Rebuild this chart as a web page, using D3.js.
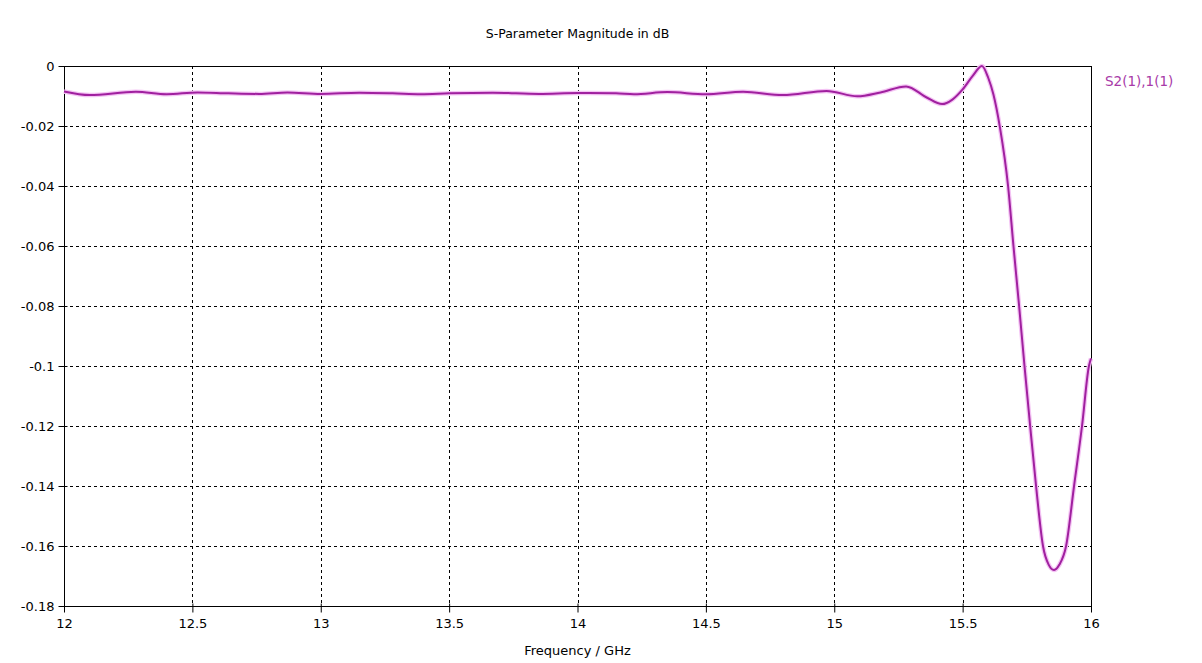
<!DOCTYPE html>
<html>
<head>
<meta charset="utf-8">
<script src="https://cdn.jsdelivr.net/npm/d3@7"></script>
<style>
  html, body { margin: 0; padding: 0; background: #ffffff; }
  svg { display: block; }
  text { font-family: "DejaVu Sans", Verdana, sans-serif; }
</style>
</head>
<body>
<svg id="chart" width="1202" height="663"></svg>
<script>
// ---- data ----
const chartTitle = "S-Parameter Magnitude in dB";
const xAxisLabel = "Frequency / GHz";
const seriesName = "S2(1),1(1)";
const xTicks = [12, 12.5, 13, 13.5, 14, 14.5, 15, 15.5, 16];
const xTickLabels = ["12", "12.5", "13", "13.5", "14", "14.5", "15", "15.5", "16"];
const yTicks = [0, -0.02, -0.04, -0.06, -0.08, -0.1, -0.12, -0.14, -0.16, -0.18];
const yTickLabels = ["0", "-0.02", "-0.04", "-0.06", "-0.08", "-0.1", "-0.12", "-0.14", "-0.16", "-0.18"];
const freqGHz = [12.0, 12.1, 12.28, 12.4, 12.52, 12.64, 12.76, 12.87, 13.0, 13.15, 13.28, 13.39, 13.5, 13.67, 13.85, 14.0, 14.15, 14.22, 14.35, 14.5, 14.645, 14.8, 14.97, 15.09, 15.18, 15.28, 15.36, 15.42, 15.46, 15.5, 15.54, 15.575, 15.6, 15.62, 15.645, 15.677, 15.698, 15.72, 15.741, 15.763, 15.786, 15.813, 15.835, 15.856, 15.877, 15.903, 15.934, 15.965, 15.992, 16.0];
const s21dB = [-0.0085, -0.0097, -0.0086, -0.0094, -0.0088, -0.0091, -0.0093, -0.0088, -0.0093, -0.0089, -0.0091, -0.0094, -0.0091, -0.0089, -0.0093, -0.009, -0.0091, -0.0094, -0.0087, -0.0094, -0.0086, -0.0097, -0.0083, -0.0101, -0.0088, -0.0068, -0.0105, -0.0127, -0.0112, -0.0078, -0.0032, 0.0, -0.004, -0.0095, -0.0203, -0.04, -0.06, -0.08, -0.10, -0.12, -0.14, -0.16, -0.1662, -0.168, -0.1662, -0.16, -0.14, -0.12, -0.10, -0.0975];

// ---- layout ----
const svg = d3.select("#chart");
const margin = { left: 64, top: 66, right: 1091, bottom: 606 };
const x = d3.scaleLinear().domain([12, 16]).range([margin.left, margin.right]);
const y = d3.scaleLinear().domain([-0.18, 0]).range([margin.bottom, margin.top]);

// grid lines (dashed)
const grid = svg.append("g");
grid.selectAll("line.vg").data(xTicks.filter(d => d > 12 && d < 16)).enter()
  .append("line").attr("class", "vg")
  .attr("x1", d => Math.round(x(d)) + 0.5).attr("x2", d => Math.round(x(d)) + 0.5)
  .attr("y1", margin.top).attr("y2", margin.bottom)
  .attr("stroke", "#000").attr("stroke-width", 1).attr("stroke-dasharray", "3,3");
grid.selectAll("line.hg").data(yTicks.filter(d => d < 0 && d > -0.18)).enter()
  .append("line").attr("class", "hg")
  .attr("y1", d => Math.round(y(d)) + 0.5).attr("y2", d => Math.round(y(d)) + 0.5)
  .attr("x1", margin.left).attr("x2", margin.right)
  .attr("stroke", "#000").attr("stroke-width", 1).attr("stroke-dasharray", "3,3");

// frame
svg.append("rect")
  .attr("x", margin.left + 0.5).attr("y", margin.top + 0.5)
  .attr("width", margin.right - margin.left).attr("height", margin.bottom - margin.top)
  .attr("fill", "none").attr("stroke", "#000").attr("stroke-width", 1);

// axes
const xAxis = d3.axisBottom(x).tickValues(xTicks)
  .tickFormat((d, i) => xTickLabels[i]).tickSizeInner(6).tickSizeOuter(0).tickPadding(6);
const gx = svg.append("g").attr("transform", `translate(0,${margin.bottom + 0.5})`).call(xAxis);
gx.select(".domain").remove();
gx.selectAll("text").attr("font-size", 13).attr("fill", "#000").attr("font-family", "DejaVu Sans, Verdana, sans-serif");
gx.selectAll("line").attr("stroke", "#000").attr("y1", -3);

const yAxis = d3.axisLeft(y).tickValues(yTicks)
  .tickFormat((d, i) => yTickLabels[i]).tickSizeInner(6).tickSizeOuter(0).tickPadding(4);
const gy = svg.append("g").attr("transform", `translate(${margin.left + 0.5},0)`).call(yAxis);
gy.select(".domain").remove();
gy.selectAll("text").attr("font-size", 13).attr("fill", "#000").attr("font-family", "DejaVu Sans, Verdana, sans-serif");
gy.selectAll("line").attr("stroke", "#000").attr("x1", 3);

// data line
const pts = freqGHz.map((f, i) => [f, s21dB[i]]);
const line = d3.line().x(d => x(d[0])).y(d => y(d[1])).curve(d3.curveMonotoneX);
svg.append("path").datum(pts).attr("d", line)
  .attr("fill", "none").attr("stroke", "#f4c4f4").attr("stroke-width", 4.5)
  .attr("stroke-linejoin", "round");
svg.append("path").datum(pts).attr("d", line)
  .attr("fill", "none").attr("stroke", "#a0209f").attr("stroke-width", 2)
  .attr("stroke-linejoin", "round");

// title & labels
svg.append("text").attr("x", (margin.left + margin.right) / 2).attr("y", 38)
  .attr("text-anchor", "middle").attr("font-size", 12.5).attr("fill", "#000").text(chartTitle);
svg.append("text").attr("x", (margin.left + margin.right) / 2).attr("y", 655)
  .attr("text-anchor", "middle").attr("font-size", 13).attr("fill", "#000").text(xAxisLabel);
svg.append("text").attr("x", 1105).attr("y", 86)
  .attr("text-anchor", "start").attr("font-size", 13.5).attr("fill", "#a83aa8").text(seriesName);
</script>
</body>
</html>
